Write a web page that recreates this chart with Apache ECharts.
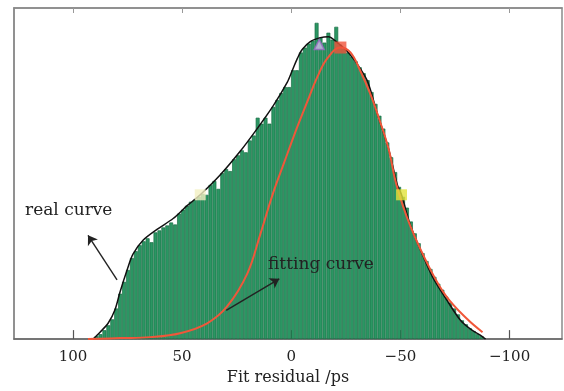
<!DOCTYPE html>
<html>
<head>
<meta charset="utf-8">
<script src="https://cdn.jsdelivr.net/npm/echarts@6/dist/echarts.min.js"></script>
<style>
  html, body { margin: 0; padding: 0; background: #fff; }
  #main { width: 564px; height: 391px; }
</style>
</head>
<body>
<div id="main"></div>
<script>
// bin centres of the histogram (ps)
var binCenters = [
  91.0, 89.2, 87.4, 85.6, 83.8, 82.0, 80.2, 78.4, 76.6, 74.8,
  73.0, 71.2, 69.4, 67.6, 65.8, 64.0, 62.2, 60.4, 58.6, 56.8,
  55.0, 53.2, 51.4, 49.6, 47.8, 46.0, 44.2, 42.4, 40.6, 38.8,
  37.0, 35.2, 33.4, 31.6, 29.8, 28.0, 26.2, 24.4, 22.6, 20.8,
  19.0, 17.2, 15.4, 13.6, 11.8, 10.0, 8.2, 6.4, 4.6, 2.8,
  1.0, -0.8, -2.6, -4.4, -6.2, -8.0, -9.8, -11.6, -13.4, -15.2,
  -17.0, -18.8, -20.6, -22.4, -24.2, -26.0, -27.8, -29.6, -31.4, -33.2,
  -35.0, -36.8, -38.6, -40.4, -42.2, -44.0, -45.8, -47.6, -49.4, -51.2,
  -53.0, -54.8, -56.6, -58.4, -60.2, -62.0, -63.8, -65.6, -67.4, -69.2,
  -71.0, -72.8, -74.6, -76.4, -78.2, -80.0, -81.8, -83.6, -85.4, -87.2
];
// counts per bin (arbitrary units)
var binCounts = [
  1, 3, 5, 9, 14, 20, 31, 46, 58, 70,
  82, 89, 95, 99, 102, 98, 108, 110, 113, 115,
  118, 116, 127, 131, 135, 139, 141, 144, 147, 146,
  156, 160, 152, 168, 172, 170, 182, 186, 191, 189,
  201, 206, 224, 218, 224, 218, 235, 242, 249, 255,
  255, 272, 272, 290, 295, 299, 302, 320, 305, 300,
  310, 303, 316, 298, 294, 290, 286, 281, 275, 269,
  262, 250, 238, 226, 213, 199, 184, 169, 154, 144,
  133, 119, 107, 97, 87, 79, 71, 63, 56, 50,
  43, 37, 31, 25, 19, 15, 11, 8, 5, 3
];
// real curve (x in ps, y in counts)
var realX = [90.8, 87.6, 83.9, 80.7, 78.4, 75.2, 72.5, 67.9, 61.5, 54.1,
  47.7, 41.7, 32.6, 23.4, 15.6, 8.3, 1.8, -0.5, -2.8, -5.0,
  -8.7, -13.3, -17.0, -21.1, -25.7, -30.3, -34.9, -39.4, -44.5, -48.6,
  -50.5, -54.6, -59.6, -64.7, -71.1, -77.5, -82.1, -87.2, -89.0];
var realY = [0, 7, 16, 30, 48, 70, 86, 100, 111, 122,
  135, 146, 166, 190, 213, 236, 260, 272, 284, 293,
  301, 305, 306, 300, 291, 278, 261, 228, 193, 156,
  146, 115, 88, 63, 40, 19, 10, 3, 0];
// fitting curve
var fitX = [93.1, 78.4, 64.7, 50.9, 38.5, 29.4, 20.2, 14.2, 8.3, 3.7,
  -2.8, -7.3, -11.9, -16.5, -22.5, -27.1, -31.7, -36.2, -39.9, -44.5,
  -48.2, -54.6, -63.8, -71.1, -80.7, -87.6];
var fitY = [0, 1, 2, 6, 16, 33, 66, 106, 148, 176,
  215, 240, 265, 284, 295, 290, 271, 248, 225, 193,
  156, 114, 70, 43, 20, 7];
// markers
var halfMax = [[41.7, 146], [-50.5, 146]];
var fitPeak = [[-22.5, 295]];
var realPeak = [[-12.8, 298]];
var tickValues = [-100, -50, 0, 50, 100];

function pairs(xs, ys) {
  var out = [];
  for (var i = 0; i < xs.length; i++) out.push([xs[i], ys[i]]);
  return out;
}

var myChart = echarts.init(document.getElementById('main'));
var serif = 'DejaVu Serif';

var option = {
  animation: false,
  grid: { left: 14, right: 2, top: 8, bottom: 48, show: true, borderColor: '#8a8a8a', borderWidth: 1.5 },
  xAxis: [{
    type: 'value', min: -124, max: 127, inverse: true, position: 'bottom',
    name: 'Fit residual /ps', nameLocation: 'middle', nameGap: 26,
    nameTextStyle: { fontFamily: serif, fontSize: 16, color: '#222' },
    axisLine: { onZero: false, lineStyle: { color: '#666', width: 1.5 } },
    axisTick: { inside: true, length: 9, customValues: tickValues, lineStyle: { color: '#555', width: 1.2 } },
    axisLabel: {
      customValues: tickValues, margin: 11, fontFamily: serif, fontSize: 15, color: '#222',
      formatter: function (v) { return String(v).replace('-', '\u2212'); }
    },
    splitLine: { show: false }
  }, {
    type: 'value', min: -124, max: 127, inverse: true, position: 'top',
    axisLine: { onZero: false, lineStyle: { color: '#8a8a8a', width: 1.5 } },
    axisTick: { inside: true, length: 5, customValues: tickValues, lineStyle: { color: '#999' } },
    axisLabel: { show: false },
    splitLine: { show: false }
  }],
  yAxis: {
    type: 'value', min: 0, max: 335, position: 'left',
    axisLine: { show: true, onZero: false, lineStyle: { color: '#8a8a8a', width: 1.5 } },
    axisTick: { show: false }, axisLabel: { show: false }, splitLine: { show: false }
  },
  series: [
    {
      type: 'bar', barWidth: 3.9,
      data: pairs(binCenters, binCounts),
      itemStyle: { color: '#2b9663', borderColor: '#1a6e45', borderWidth: 0.7 }
    },
    {
      type: 'line', data: pairs(realX, realY), showSymbol: false, smooth: 0.3,
      lineStyle: { color: '#111', width: 1.5 }, z: 3
    },
    {
      type: 'line', data: pairs(fitX, fitY), showSymbol: false, smooth: 0.4,
      lineStyle: { color: '#f0573a', width: 2 }, z: 4,
      markLine: {
        silent: true, symbol: ['none', 'arrow'], symbolSize: 9,
        label: { show: false },
        lineStyle: { color: '#222', width: 1.4, type: 'solid' },
        data: [
          [{ coord: [79.8, 60] }, { coord: [93.1, 105] }],
          [{ coord: [29.8, 29] }, { coord: [5.5, 61] }]
        ]
      }
    },
    {
      type: 'scatter', symbol: 'rect', symbolSize: 11, z: 6,
      data: [
        { value: halfMax[0], itemStyle: { color: '#f2f0c2' } },
        { value: halfMax[1], itemStyle: { color: '#e1e23a' } }
      ]
    },
    {
      type: 'scatter', symbol: 'rect', symbolSize: 12, z: 6,
      data: fitPeak, itemStyle: { color: '#f0523a' }
    },
    {
      type: 'scatter', symbol: 'triangle', symbolSize: 10, z: 6,
      data: realPeak, itemStyle: { color: '#cdbde8', borderColor: '#9868c2', borderWidth: 1.5 }
    }
  ],
  graphic: [
    { type: 'text', z: 100, left: 25, top: 202, style: { text: 'real curve', fontFamily: serif, fontSize: 17, fill: '#222' } },
    { type: 'text', z: 100, left: 268, top: 256, style: { text: 'fitting curve', fontFamily: serif, fontSize: 17, fill: '#222' } }
  ]
};

myChart.setOption(option);
</script>
</body>
</html>
